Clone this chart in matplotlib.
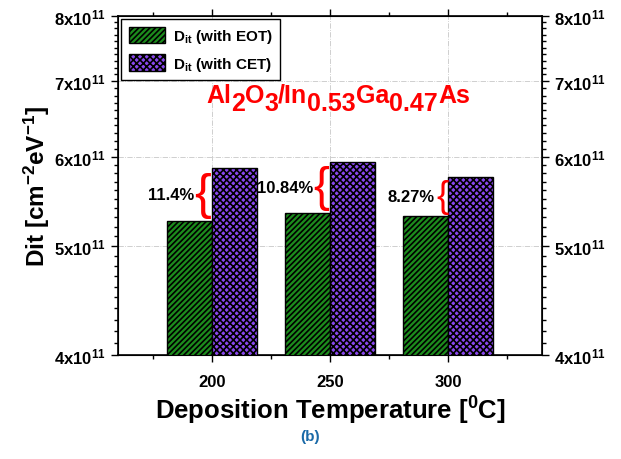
import numpy as np
import matplotlib.pyplot as plt
from matplotlib.ticker import FixedLocator, FixedFormatter, NullFormatter

plt.rcParams["font.family"] = ["Liberation Sans", "DejaVu Sans"]
plt.rcParams["font.weight"] = "bold"
plt.rcParams["axes.labelweight"] = "bold"
plt.rcParams["mathtext.fontset"] = "custom"
plt.rcParams["mathtext.rm"] = "Liberation Sans:bold"
plt.rcParams["mathtext.it"] = "Liberation Sans:bold"
plt.rcParams["mathtext.bf"] = "Liberation Sans:bold"
plt.rcParams["mathtext.default"] = "bf"
plt.rcParams["hatch.linewidth"] = 1.2

# data
temps = [200, 250, 300]
dit_eot = [5.26e11, 5.35e11, 5.32e11]
dit_cet = [5.86e11, 5.93e11, 5.76e11]
pct = ["11.4%", "10.84%", "8.27%"]
yticks = [4e11, 5e11, 6e11, 7e11, 8e11]
ytlabels = ["4x10$^{11}$", "5x10$^{11}$", "6x10$^{11}$", "7x10$^{11}$", "8x10$^{11}$"]
# stack label: (text, is_subscript)
title_parts = [("Al", 0), ("2", 1), ("O", 0), ("3", 1), ("/In", 0), ("0.53", 1),
               ("Ga", 0), ("0.47", 1), ("As", 0)]

green = "#1c8c1c"
purple = "#8a48ee"
bw = 19
base = 1e11

fig = plt.figure(figsize=(6.21, 4.60), dpi=100)
ax = fig.add_axes([0.190, 0.226, 0.683, 0.737])

ax.bar(temps, np.array(dit_eot) - base, width=-bw, align="edge", bottom=base, color=green,
       edgecolor="black", hatch="//////", lw=1, label="D$_{it}$ (with EOT)", zorder=3)
ax.bar(temps, np.array(dit_cet) - base, width=bw, align="edge", bottom=base, color=purple,
       edgecolor="black", hatch="xxxxx", lw=1, label="D$_{it}$ (with CET)", zorder=3)

ax.set_yscale("log")
ax.set_ylim(4e11, 8e11)
ax.set_xlim(160, 340)

ax.yaxis.set_major_locator(FixedLocator(yticks))
ax.yaxis.set_major_formatter(FixedFormatter(ytlabels))
minors = np.arange(4.1e11, 8e11, 0.1e11)
ax.yaxis.set_minor_locator(FixedLocator(minors))
ax.yaxis.set_minor_formatter(NullFormatter())
ax.set_xticks(temps)
ax.set_xticks([175, 225, 275, 325], minor=True)

ax.tick_params(axis="both", which="major", labelsize=12, length=5, width=1)
ax.tick_params(axis="both", which="minor", length=3, width=1)
ax.tick_params(axis="x", top=True, which="both", direction="out")
ax.tick_params(axis="x", which="major", pad=9)

ax.grid(True, which="major", ls="-.", lw=0.6, color="#c8c8c8", zorder=0)
for s in ax.spines.values():
    s.set_linewidth(1.2)

ax2 = ax.twinx()
ax2.set_yscale("log")
ax2.set_ylim(4e11, 8e11)
ax2.yaxis.set_major_locator(FixedLocator(yticks))
ax2.yaxis.set_major_formatter(FixedFormatter(ytlabels))
ax2.yaxis.set_minor_locator(FixedLocator(minors))
ax2.yaxis.set_minor_formatter(NullFormatter())
ax2.tick_params(which="major", labelsize=12, length=5, width=1)
ax2.tick_params(which="minor", length=3, width=1)

ax.set_xlabel("Deposition Temperature [$^{0}$C]", fontsize=18.5, labelpad=3)
ax.set_ylabel("Dit [cm$^{-2}$eV$^{-1}$]", fontsize=17.5, labelpad=2)

leg = ax.legend(loc="upper left", fontsize=11, frameon=True, fancybox=False,
                edgecolor="black", handlelength=2.4, handleheight=1.3,
                borderaxespad=0.2, labelspacing=0.6, borderpad=0.5, handletextpad=0.5)
leg.get_frame().set_linewidth(1.0)
leg.get_frame().set_alpha(1)

# red stack label, subscripts at full size but dropped
fig.canvas.draw()
r = fig.canvas.get_renderer()
W, H = fig.bbox.width, fig.bbox.height
pieces = []
for s, sub in title_parts:
    t = fig.text(0, 0, s, color="red", fontsize=18, va="baseline", ha="left")
    pieces.append((t, sub, t.get_window_extent(r).width))
total = sum(w for _, _, w in pieces)
x = 338 - total / 2
for t, sub, w in pieces:
    t.set_position((x / W, (349 if sub else 357) / H))
    x += w

# braces and percentages
offs = [4.3, 3.8, 2.2]
for t, lo, hi, p, o in zip(temps, dit_eot, dit_cet, pct, offs):
    ylo = ax.transData.transform((t, lo))[1]
    yhi = ax.transData.transform((t, hi))[1]
    hpx = (yhi - ylo) * 0.95
    fs = hpx * 72 / 100
    ymid = np.sqrt(lo * hi)
    ax.text(t - o, ymid, "{", color="red", fontsize=fs, fontweight="normal",
            ha="center", va="center", zorder=4)
    ax.text(t - o - 3.3, ymid, p, color="black", fontsize=12,
            ha="right", va="center", zorder=4)

fig.text(0.5, 0.05, "(b)", color="#1a6aa8", fontsize=11, ha="center", va="center")

fig.savefig("out.png", dpi=100)
